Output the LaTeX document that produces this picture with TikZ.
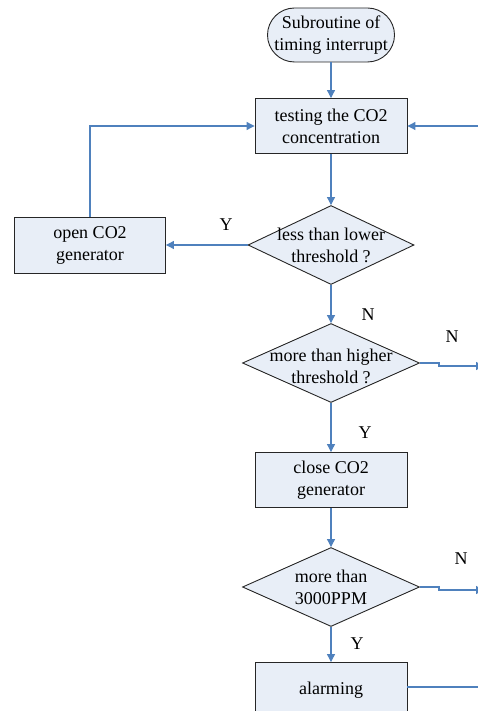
\documentclass[tikz,border=0pt]{standalone}
\usepackage{fontspec}
\setmainfont{Liberation Serif}
\usepackage{tikz}
\usetikzlibrary{shapes.geometric, arrows.meta, calc}
\definecolor{flowblue}{HTML}{4F81BD}
\definecolor{boxfill}{HTML}{E8EEF7}
\definecolor{boxline}{HTML}{262626}
\tikzset{
  procbox/.style={draw=boxline, fill=boxfill, line width=0.9pt, minimum width=152pt, minimum height=55pt, align=center, inner sep=0pt},
  termbox/.style={draw=boxline, fill=boxfill, line width=0.9pt, rounded corners=27pt, minimum width=127pt, minimum height=54pt, align=center, inner sep=0pt},
  decbox/.style={draw=boxline, fill=boxfill, diamond, line width=0.9pt, inner sep=0pt},
  flow/.style={draw=flowblue, line width=1.1pt, -{Triangle[length=8pt,width=8pt]}},
  flowline/.style={draw=flowblue, line width=1.1pt}
}

\begin{document}
\begin{tikzpicture}[x=1pt, y=-1pt, font=\fontsize{18}{22}\selectfont]
  \useasboundingbox (0,0) rectangle (478,711);
  \clip (0,0) rectangle (478,711);
  % boxes
  \node[termbox] (start) at (331,35) {Subroutine of\\timing interrupt};
  \node[procbox] (test) at (331,126) {testing the CO2\\concentration};
  \node[procbox, minimum width=151pt, minimum height=56pt] (open) at (90,245) {open CO2\\generator};
  \node[decbox, minimum width=166pt, minimum height=79pt] (less) at (331,245) {};
  \node[align=center] (lessT) at (331,245) {less than lower\\threshold ?};
  \node[decbox, minimum width=177pt, minimum height=79pt] (more) at (331,363) {};
  \node[align=center] (moreT) at (331,366) {more than higher\\threshold ?};
  \node[procbox] (close) at (331,480) {close CO2\\generator};
  \node[decbox, minimum width=177pt, minimum height=79pt] (ppm) at (331,587) {};
  \node[align=center] (ppmT) at (331,587) {more than\\3000PPM};
  \node[procbox] (alarm) at (331,690) {alarming};
  % free ends at the right edge
  \coordinate (inR) at (479,126);
  \coordinate (outA) at (484,366);
  \coordinate (outB) at (484,590);
  \coordinate (outC) at (479,687);
  % connectors
  \draw[flow] (start) -- (test);
  \draw[flow] (inR) -- (test.east);
  \draw[flow] (open.north) |- (test.west);
  \draw[flow] (test) -- (less);
  \draw[flow] (less.west) -- (open.east);
  \draw[flow] (less) -- (more);
  \draw[flow] (more.east) -- ++(19,0) -- ++(0,3) -- (outA);
  \draw[flow] (more) -- (close);
  \draw[flow] (close) -- (ppm);
  \draw[flow] (ppm.east) -- ++(19,0) -- ++(0,3) -- (outB);
  \draw[flow] (ppm) -- (alarm);
  \draw[flowline] (alarm.east |- outC) -- (outC);
  % branch labels
  \node (yOpen) at (226,225) {Y};
  \node (nLess) at (368,315) {N};
  \node (nMore) at (452,337) {N};
  \node (yMore) at (365,433) {Y};
  \node (nPpm) at (461,559) {N};
  \node (yPpm) at (357,644) {Y};
\end{tikzpicture}
\end{document}
